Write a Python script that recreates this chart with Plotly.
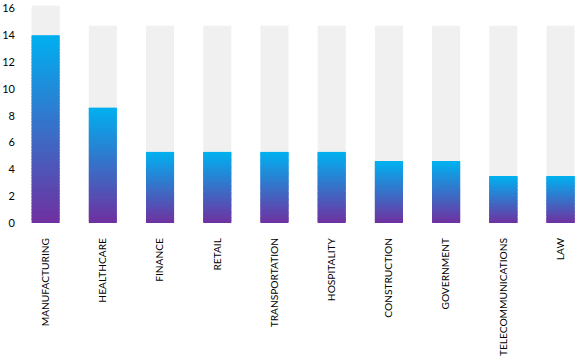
import plotly.graph_objects as go

categories = ["MANUFACTURING", "HEALTHCARE", "FINANCE", "RETAIL", "TRANSPORTATION",
              "HOSPITALITY", "CONSTRUCTION", "GOVERNMENT", "TELECOMMUNICATIONS", "LAW"]
values = [14.0, 8.6, 5.3, 5.3, 5.3, 5.3, 4.6, 4.6, 3.5, 3.5]
background = [16.2, 14.7, 14.7, 14.7, 14.7, 14.7, 14.7, 14.7, 14.7, 14.7]
y_ticks = [0, 2, 4, 6, 8, 10, 12, 14, 16]

bottom_rgb = (112, 48, 160)
top_rgb = (0, 176, 240)
N = 60

fig = go.Figure()
fig.add_trace(go.Bar(x=categories, y=background, width=0.49,
                     marker=dict(color="#F0F0F0", line=dict(width=0)),
                     hoverinfo="skip", showlegend=False))

for i in range(N):
    t = (i + 0.5) / N
    r = round(bottom_rgb[0] + (top_rgb[0] - bottom_rgb[0]) * t)
    g = round(bottom_rgb[1] + (top_rgb[1] - bottom_rgb[1]) * t)
    b = round(bottom_rgb[2] + (top_rgb[2] - bottom_rgb[2]) * t)
    seg = [v / N for v in values]
    base = [v * i / N for v in values]
    h = [s * (1.6 if i < N - 1 else 1.0) for s in seg]
    fig.add_trace(go.Bar(x=categories, y=h, base=base, width=0.49,
                         marker=dict(color=f"rgb({r},{g},{b})", line=dict(width=0)),
                         hoverinfo="skip", showlegend=False))

fig.update_layout(
    barmode="overlay",
    width=580, height=361,
    margin=dict(l=17, r=0, t=5, b=138, autoexpand=False),
    plot_bgcolor="white", paper_bgcolor="white",
    font=dict(family="Lato, Open Sans, sans-serif", size=11, color="#000000"),
    xaxis=dict(range=[-0.5, 9.34], tickangle=-90, showgrid=False, zeroline=False,
               showline=False, ticks="", automargin=False, tickfont=dict(size=10.2),
               ticklabelstandoff=12),
    yaxis=dict(range=[0, 16.25], tickvals=y_ticks, showgrid=False, zeroline=False,
               showline=False, ticks="", automargin=False, tickfont=dict(size=11),
               ticklabelstandoff=1),
)

fig.write_html("out.html")
